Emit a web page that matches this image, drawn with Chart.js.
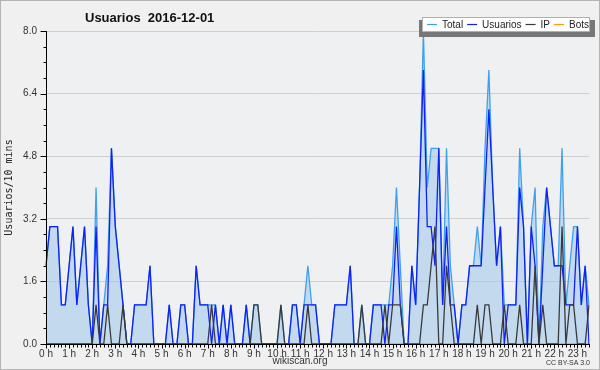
<!DOCTYPE html>
<html><head><meta charset="utf-8">
<script src="https://cdn.jsdelivr.net/npm/chart.js@4/dist/chart.umd.min.js"></script>
<style>html,body{margin:0;padding:0;background:#f0f0f0;}#wrap{width:600px;height:370px;position:relative;}</style>
</head><body><div id="wrap"><canvas id="c" width="600" height="370"></canvas></div>
<script>
const chartTitle = 'Usuarios  2016-12-01';
const yAxisTitle = 'Usuarios/10 mins';
const hourLabels = ['0 h','1 h','2 h','3 h','4 h','5 h','6 h','7 h','8 h','9 h','10 h','11 h','12 h','13 h','14 h','15 h','16 h','17 h','18 h','19 h','20 h','21 h','22 h','23 h'];
const yTickLabels = ['0.0','1.6','3.2','4.8','6.4','8.0'];
const seriesNames = ['Total','Usuarios','IP','Bots'];
const totalValues = [
 2,3,3,3,1,1,2,3,1,2,3,1, 0,4,0,1,2,5,3,2,1,0,0,1,
 1,1,1,2,0,0,0,0,1,0,0,1, 1,0,0,2,1,1,1,1,1,0,1,0,
 1,0,0,0,1,0,1,1,0,0,0,0, 0,1,0,0,1,1,0,1,2,1,1,0,
 0,0,0,1,1,1,1,2,0,0,1,0, 0,1,1,1,1,1,2,4,2,0,0,2,
 1,4,8,4,5,5,5,1,5,2,1,0, 1,1,2,2,3,2,5,7,4,2,3,1,
 1,1,1,5,3,0,3,4,0,3,4,3, 2,2,5,1,2,3,3,1,2,1];
const usuariosValues = [
 2,3,3,3,1,1,2,3,1,2,3,1, 0,3,0,1,1,5,3,2,1,0,0,1,
 1,1,1,2,0,0,0,0,1,0,0,1, 1,0,0,2,1,1,1,0,1,0,1,0,
 1,0,0,0,1,0,0,0,0,0,0,0, 0,0,0,0,1,1,0,1,1,1,1,0,
 0,0,0,1,1,1,1,2,0,0,0,0, 0,1,1,1,0,1,1,3,1,0,0,2,
 1,4,7,3,3,2,5,1,3,1,1,0, 1,1,2,2,2,2,4,6,4,2,3,0,
 1,1,1,4,3,0,3,2,0,2,4,3, 2,2,2,1,1,1,3,1,2,0];
const ipValues = [
 0,0,0,0,0,0,0,0,0,0,0,0, 0,1,0,0,1,0,0,0,1,0,0,0,
 0,0,0,0,0,0,0,0,0,0,0,0, 0,0,0,0,0,0,0,1,0,0,0,0,
 0,0,0,0,0,0,1,1,0,0,0,0, 0,1,0,0,0,0,0,0,1,0,0,0,
 0,0,0,0,0,0,0,0,0,0,1,0, 0,0,0,0,1,0,1,1,1,0,0,0,
 0,0,1,1,2,3,0,0,2,1,0,0, 0,0,0,0,1,0,1,1,0,0,0,1,
 0,0,0,1,0,0,0,2,0,1,0,0, 0,0,3,0,1,1,0,0,0,1];
const botsValues = totalValues.map(() => 0);

const slots = totalValues.map((_, i) => String(Math.floor(i / 6)).padStart(2, '0') + ':' + (i % 6) + '0');
const isMajor = v => Math.abs(v / 1.6 - Math.round(v / 1.6)) < 1e-6;

const deco = {
  id: 'deco',
  beforeDraw(chart) {
    const ctx = chart.ctx, a = chart.chartArea;
    ctx.save();
    ctx.fillStyle = '#f0f0f0';
    ctx.fillRect(0, 0, 600, 370);
    ctx.strokeStyle = '#b4b4b4';
    ctx.lineWidth = 1;
    ctx.strokeRect(0.5, 0.5, 599, 369);
    ctx.fillStyle = '#eef0f2';
    ctx.fillRect(a.left, a.top, a.right - a.left, a.bottom - a.top);
    ctx.restore();
  },
  afterDatasetsDraw(chart) {
    const ctx = chart.ctx, a = chart.chartArea, xs = chart.scales.x, ys = chart.scales.y;
    ctx.save();
    ctx.strokeStyle = '#000';
    ctx.lineWidth = 1;
    ctx.beginPath();
    const L = Math.round(a.left) + 0.5, B = Math.round(a.bottom) + 0.5;
    ctx.moveTo(L, a.top); ctx.lineTo(L, B); ctx.lineTo(a.right + 1, B);
    ys.ticks.forEach(t => {
      const y = Math.round(ys.getPixelForValue(t.value)) + 0.5;
      const len = isMajor(t.value) ? 6 : 3;
      ctx.moveTo(L - len, y); ctx.lineTo(L, y);
    });
    for (let i = 0; i < slots.length; i++) {
      const x = Math.round(xs.getPixelForValue(i)) + 0.5;
      ctx.moveTo(x, B); ctx.lineTo(x, B + (i % 6 === 0 ? 4 : 3));
    }
    ctx.stroke();
    ctx.restore();
  },
  afterDraw(chart) {
    const ctx = chart.ctx;
    ctx.save();
    ctx.fillStyle = '#111';
    ctx.font = 'bold 13px "Liberation Sans", Arial, sans-serif';
    ctx.textBaseline = 'middle';
    ctx.textAlign = 'left';
    ctx.fillText(chartTitle, 85, 18);
    // legend
    ctx.fillStyle = '#777777';
    ctx.fillRect(419, 20, 176, 17);
    ctx.fillStyle = '#ffffff';
    ctx.fillRect(422, 17, 168, 15);
    ctx.strokeStyle = '#b0b0b0';
    ctx.lineWidth = 1;
    ctx.strokeRect(422.5, 17.5, 167, 14);
    ctx.font = '10px "Liberation Sans", Arial, sans-serif';
    let x = 427;
    const ly = 24.5;
    chart.data.datasets.forEach(ds => {
      ctx.strokeStyle = ds.borderColor;
      ctx.lineWidth = 1.2;
      ctx.beginPath(); ctx.moveTo(x, ly); ctx.lineTo(x + 10, ly); ctx.stroke();
      x += 15;
      ctx.fillStyle = '#222';
      ctx.fillText(ds.label, x, ly + 0.5);
      x += ctx.measureText(ds.label).width + 4;
    });
    ctx.fillStyle = '#333';
    ctx.font = '10px "Liberation Sans", Arial, sans-serif';
    ctx.textAlign = 'center';
    ctx.fillText('wikiscan.org', 300, 361);
    ctx.font = '7px "Liberation Sans", Arial, sans-serif';
    ctx.textAlign = 'right';
    ctx.fillText('CC BY-SA 3.0', 590, 363);
    ctx.restore();
  }
};

new Chart(document.getElementById('c'), {
  type: 'line',
  data: {
    labels: slots,
    datasets: [
      { label: seriesNames[0], data: totalValues, borderColor: '#3fa0f0', backgroundColor: 'rgba(160,200,235,0.55)', fill: 'origin', order: 4 },
      { label: seriesNames[1], data: usuariosValues, borderColor: '#1020f8', fill: false, order: 2 },
      { label: seriesNames[2], data: ipValues, borderColor: '#3a3a3a', fill: false, order: 1 },
      { label: seriesNames[3], data: botsValues, borderColor: '#ff9a10', fill: false, order: 3 }
    ]
  },
  options: {
    responsive: false,
    animation: false,
    devicePixelRatio: 1,
    layout: { padding: { left: 0, right: 11, top: 31, bottom: 0 } },
    elements: { point: { radius: 0 }, line: { borderWidth: 1.3, tension: 0 } },
    plugins: { legend: { display: false }, tooltip: { enabled: false }, title: { display: false } },
    scales: {
      x: {
        type: 'category',
        offset: false,
        grid: { display: false, drawTicks: false },
        border: { display: false },
        ticks: {
          autoSkip: false, maxRotation: 0, minRotation: 0, padding: 4,
          color: '#333', font: { family: '"Liberation Sans", Arial, sans-serif', size: 10 },
          callback: (v, i) => (i % 6 === 0 ? hourLabels[i / 6] : '')
        },
        afterFit: s => { s.height = 26; }
      },
      y: {
        min: 0, max: 8,
        grid: { drawTicks: false, color: c => (c.tick && isMajor(c.tick.value) ? '#cfcfcf' : 'rgba(0,0,0,0)'), lineWidth: 1 },
        border: { display: false },
        ticks: {
          stepSize: 0.4, padding: 9, color: '#333',
          font: { family: '"Liberation Sans", Arial, sans-serif', size: 10 },
          callback: v => (isMajor(v) ? yTickLabels[Math.round(v / 1.6)] : '')
        },
        title: { display: true, text: yAxisTitle, color: '#222', padding: { top: 3, bottom: 0 }, font: { family: '"DejaVu Sans Mono", monospace', size: 10 } },
        afterFit: s => { s.width = 46; }
      }
    }
  },
  plugins: [deco]
});
</script></body></html>
